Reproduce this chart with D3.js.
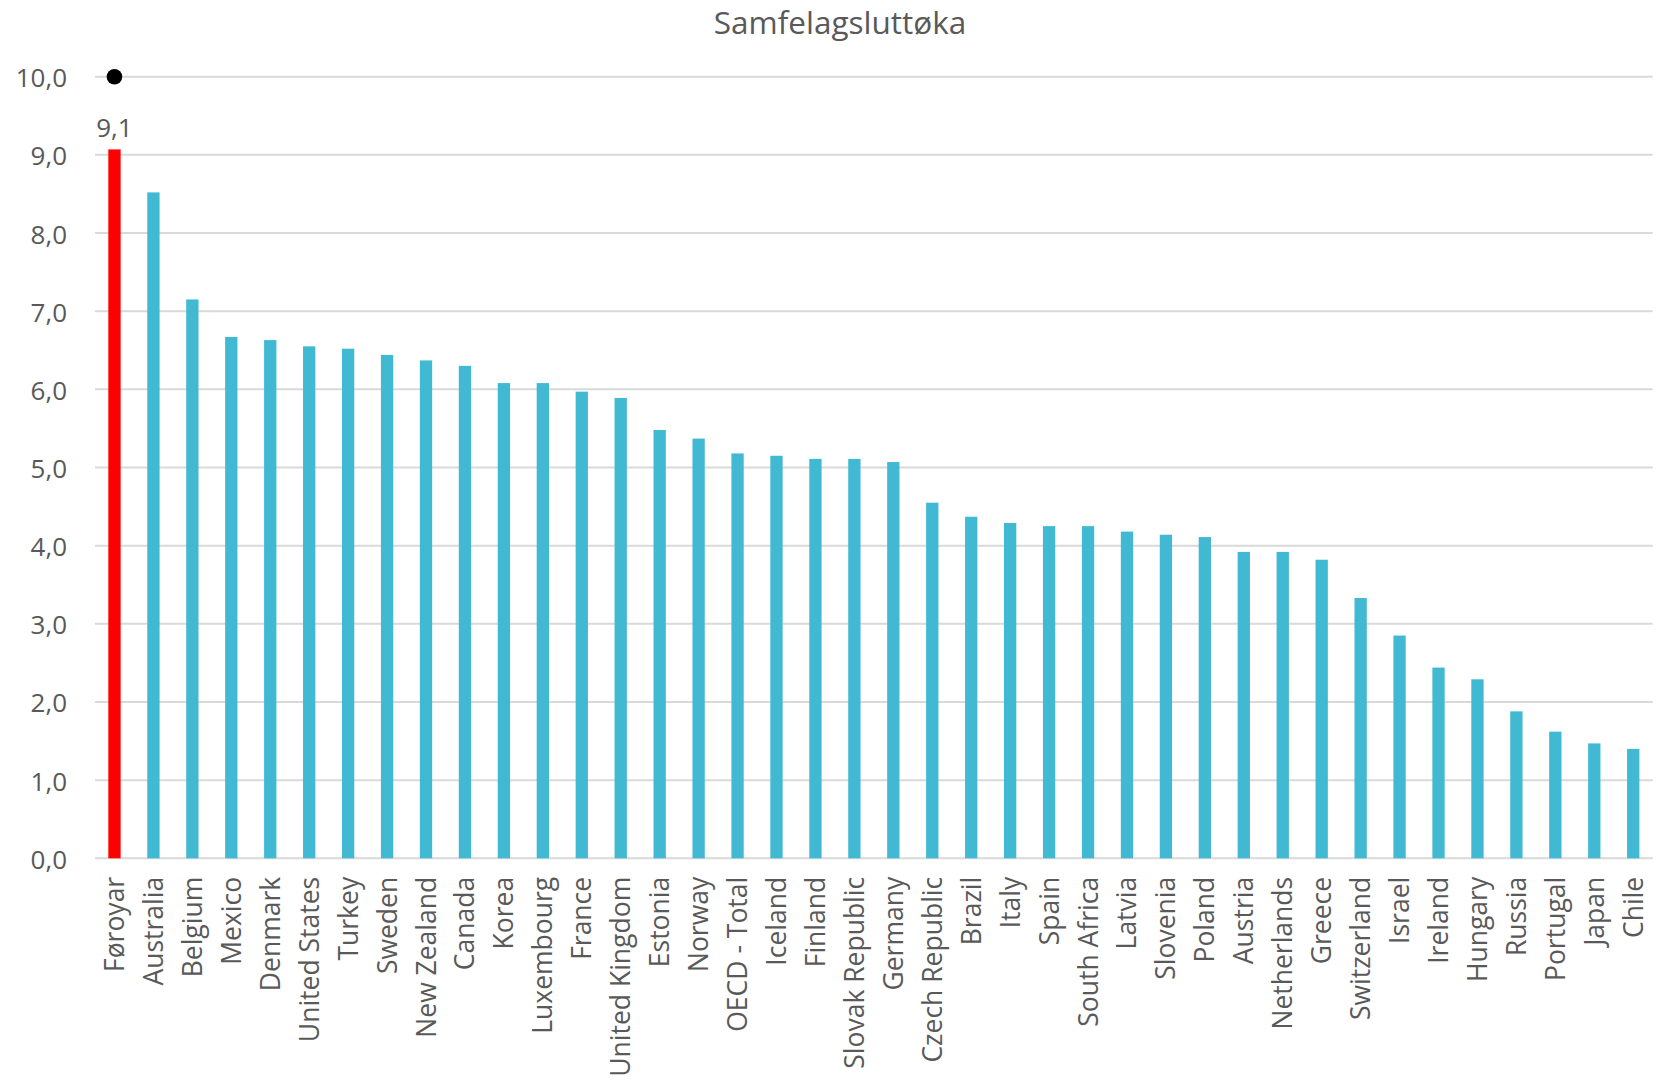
<!DOCTYPE html>
<html>
<head>
<meta charset="utf-8">
<script src="https://cdn.jsdelivr.net/npm/d3@7"></script>
<style>
  html, body { margin: 0; padding: 0; background: #fff; }
  svg { display: block; }
  text { font-family: "Open Sans", "Noto Sans", sans-serif; fill: #595959; }
</style>
</head>
<body>
<svg id="chart" width="1673" height="1081"></svg>
<script>
const title = "Samfelagsluttøka";
const categories = ["Føroyar","Australia","Belgium","Mexico","Denmark","United States","Turkey","Sweden","New Zealand","Canada","Korea","Luxembourg","France","United Kingdom","Estonia","Norway","OECD - Total","Iceland","Finland","Slovak Republic","Germany","Czech Republic","Brazil","Italy","Spain","South Africa","Latvia","Slovenia","Poland","Austria","Netherlands","Greece","Switzerland","Israel","Ireland","Hungary","Russia","Portugal","Japan","Chile"];
const values = [9.07,8.52,7.15,6.67,6.63,6.55,6.52,6.44,6.37,6.30,6.08,6.08,5.97,5.89,5.48,5.37,5.18,5.15,5.11,5.11,5.07,4.55,4.37,4.29,4.25,4.25,4.18,4.14,4.11,3.92,3.92,3.82,3.33,2.85,2.44,2.29,1.88,1.62,1.47,1.40];
const highlighted = ["Føroyar"];
const labelled = [{category: "Føroyar", text: "9,1"}];
const markerPoints = [{category: "Føroyar", value: 10}];
const yTicks = [0,1,2,3,4,5,6,7,8,9,10];

const svg = d3.select("#chart");
const mLeft = 95, mRight = 1652.7, mTop = 76.7, mBottom = 858.3;

const x = d3.scaleBand().domain(categories).range([mLeft, mRight]).paddingInner(0.684).paddingOuter(0.342);
const y = d3.scaleLinear().domain([0, 10]).range([mBottom, mTop]);
const fmt = v => d3.format(".1f")(v).replace(".", ",");

// gridlines
svg.append("g").selectAll("line").data(yTicks).join("line")
  .attr("x1", mLeft).attr("x2", mRight)
  .attr("y1", d => y(d)).attr("y2", d => y(d))
  .attr("stroke", "#d9d9d9").attr("stroke-width", 2);

// y axis labels
const yAxis = d3.axisLeft(y).tickValues(yTicks).tickFormat(fmt).tickSize(0).tickPadding(0);
const yg = svg.append("g").attr("transform", `translate(67,0)`).call(yAxis);
yg.select(".domain").remove();
yg.selectAll("text").attr("font-size", 26).attr("fill", "#595959")
  .attr("font-family", "'Open Sans', sans-serif").attr("dy", 10).attr("x", 0);

// bars
const data = categories.map((c, i) => ({c, v: values[i]}));
svg.append("g").selectAll("rect").data(data).join("rect")
  .attr("x", d => x(d.c)).attr("width", x.bandwidth())
  .attr("y", d => y(d.v)).attr("height", d => y(0) - y(d.v))
  .attr("fill", d => highlighted.includes(d.c) ? "#ff0000" : "#41b9d3");

// x axis labels
const xAxis = d3.axisBottom(x).tickSize(0).tickPadding(0);
const xg = svg.append("g").attr("transform", `translate(0,${mBottom})`).call(xAxis);
xg.select(".domain").remove();
xg.selectAll("text")
  .attr("font-size", 26.5).attr("fill", "#595959").attr("font-family", "'Open Sans', sans-serif")
  .attr("text-anchor", "end")
  .attr("transform", "translate(0,18.5) rotate(-90)")
  .attr("x", 0).attr("y", 0).attr("dy", 9.5);

// data label
svg.append("g").selectAll("text").data(labelled).join("text")
  .attr("x", d => x(d.category) + x.bandwidth() / 2)
  .attr("y", d => y(values[categories.indexOf(d.category)]) - 12)
  .attr("text-anchor", "middle").attr("font-size", 26)
  .text(d => d.text);

// marker points
svg.append("g").selectAll("circle").data(markerPoints).join("circle")
  .attr("cx", d => x(d.category) + x.bandwidth() / 2)
  .attr("cy", d => y(d.value)).attr("r", 7.8).attr("fill", "#000");

// title
svg.append("text").attr("x", 840).attr("y", 34).attr("text-anchor", "middle")
  .attr("font-size", 31.5).text(title);
</script>
</body>
</html>
